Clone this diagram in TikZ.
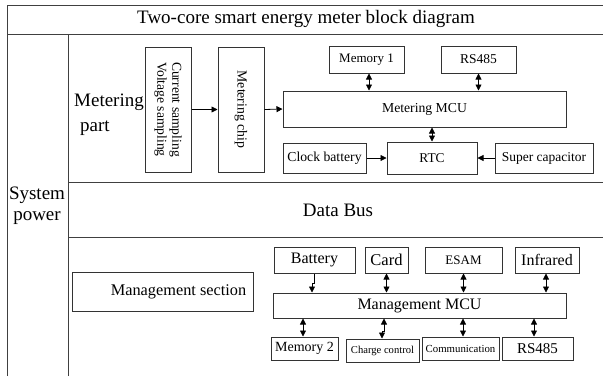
\documentclass[tikz,border=0pt]{standalone}
\usepackage{fontspec}
\setmainfont{Liberation Serif}
\usetikzlibrary{arrows.meta}
\begin{document}
\begin{tikzpicture}[x=1pt,y=-1pt,
  frame/.style={line width=1pt,draw=black!75},
  blk/.style={draw=black!80,line width=1pt,inner sep=0pt,align=center},
  onedir/.style={line width=0.8pt,-{Triangle[length=6pt,width=6pt]}},
  twodir/.style={line width=0.8pt,{Triangle[length=6pt,width=6pt]}-{Triangle[length=6pt,width=6pt]}},
  big/.style={font=\fontsize{19}{21}\selectfont,inner sep=0pt}]
\useasboundingbox (0,0) rectangle (603,376);
% frame
\draw[frame] (7,376) -- (7,5) -- (603,5);
\draw[frame] (7,34) -- (603,34);
\draw[frame] (68,376) -- (68,34);
\draw[frame] (68,182) -- (603,182);
\draw[frame] (68,237) -- (603,237);
% labels
\node[big] (title) at (306,19) {Two-core smart energy meter block diagram};
\node[big,align=center] (sys) at (37,206) {System\\power};
\node[big,anchor=west] (met1) at (74,102) {Metering};
\node[big,anchor=west] (met2) at (80,128) {part};
\node[big] (bus) at (338,210) {Data Bus};
% metering part
\node[blk,minimum width=46pt,minimum height=125pt] (cs) at (168,109.5) {};
\node[rotate=-90,align=center,font=\fontsize{13.6}{15}\selectfont,inner sep=0pt] (cst) at (168,109.5) {Current sampling\\Voltage sampling};
\node[blk,minimum width=46pt,minimum height=125pt] (chip) at (241,109.5) {};
\node[rotate=-90,font=\fontsize{13.8}{15}\selectfont,inner sep=0pt] (chipt) at (241,109.5) {Metering chip};
\node[blk,minimum width=283pt,minimum height=36pt,font=\fontsize{13.7}{15}\selectfont] (mmcu) at (424.5,109) {Metering MCU};
\node[blk,minimum width=75pt,minimum height=27pt,font=\fontsize{13}{15}\selectfont] (mem1) at (366.5,59.5) {Memory 1};
\node[blk,minimum width=75pt,minimum height=27pt,font=\fontsize{13.5}{15}\selectfont] (rs1) at (478.5,59.5) {RS485};
\node[blk,minimum width=83pt,minimum height=30pt,font=\fontsize{13.7}{15}\selectfont] (clk) at (324.5,158) {Clock battery};
\node[blk,minimum width=90pt,minimum height=32pt,font=\fontsize{13.4}{15}\selectfont] (rtc) at (432,158) {RTC};
\node[blk,minimum width=98pt,minimum height=30pt,font=\fontsize{13.5}{15}\selectfont] (sup) at (544,158) {Super capacitor};
\draw[onedir] (cs.east) -- (chip.west);
\draw[onedir] (chip.east) -- (mmcu.west);
\draw[twodir] ([xshift=2.5pt]mem1.south) -- ([xshift=2.5pt]mem1.south |- mmcu.north);
\draw[twodir] (rs1.south) -- (rs1.south |- mmcu.north);
\draw[twodir] (rtc.north) -- (rtc.north |- mmcu.south);
\draw[onedir] (clk.east) -- (rtc.west);
\draw[onedir] (sup.west) -- (rtc.east);
% management part
\node[blk,minimum width=181pt,minimum height=39pt,font=\fontsize{16.3}{18}\selectfont] (msec) at (162.5,291.5) {\hspace*{32pt}Management section};
\node[blk,minimum width=81pt,minimum height=26pt,font=\fontsize{16}{18}\selectfont] (bat) at (314.5,260) {Battery};
\node[blk,minimum width=43pt,minimum height=26pt,font=\fontsize{16.5}{18}\selectfont] (card) at (386.5,260) {Card};
\node[blk,minimum width=77pt,minimum height=26pt,font=\fontsize{13}{15}\selectfont] (esam) at (463.5,260) {ESAM};
\node[blk,minimum width=64pt,minimum height=26pt,font=\fontsize{16}{18}\selectfont] (ir) at (547,260) {Infrared};
\node[blk,minimum width=293pt,minimum height=25pt,font=\fontsize{16}{18}\selectfont] (gmcu) at (419.5,305.5) {Management MCU};
\node[blk,minimum width=67pt,minimum height=23pt,font=\fontsize{14}{16}\selectfont] (mem2) at (304.5,348.5) {Memory 2};
\node[blk,minimum width=73pt,minimum height=23pt,font=\fontsize{10.6}{12}\selectfont] (chg) at (382.5,350.5) {Charge control};
\node[blk,minimum width=77pt,minimum height=23pt,font=\fontsize{10.8}{12}\selectfont] (comm) at (460.5,348.5) {Communication};
\node[blk,minimum width=71pt,minimum height=23pt,font=\fontsize{15}{17}\selectfont] (rs2) at (537.5,348.5) {RS485};
\coordinate (bj) at (314,283);
\draw[onedir] (bat.south -| bj) -- (bj) -- ++(-2,0) -- (gmcu.north -| 312,0);
\draw[twodir] (card.south) -- (card.south |- gmcu.north);
\draw[twodir] (esam.south) -- (esam.south |- gmcu.north);
\draw[twodir] ([xshift=-1pt]ir.south) -- ([xshift=-1pt]ir.south |- gmcu.north);
\draw[twodir] ([xshift=-1.5pt]mem2.north) -- ([xshift=-1.5pt]mem2.north |- gmcu.south);
\coordinate (cj) at (384,331);
\draw[twodir] (gmcu.south -| cj) -- (cj) -- ++(-2,0) -- (chg.north -| 382,0);
\draw[twodir] ([xshift=2.5pt]comm.north) -- ([xshift=2.5pt]comm.north |- gmcu.south);
\draw[twodir] ([xshift=-3.5pt]rs2.north) -- ([xshift=-3.5pt]rs2.north |- gmcu.south);
\end{tikzpicture}
\end{document}
